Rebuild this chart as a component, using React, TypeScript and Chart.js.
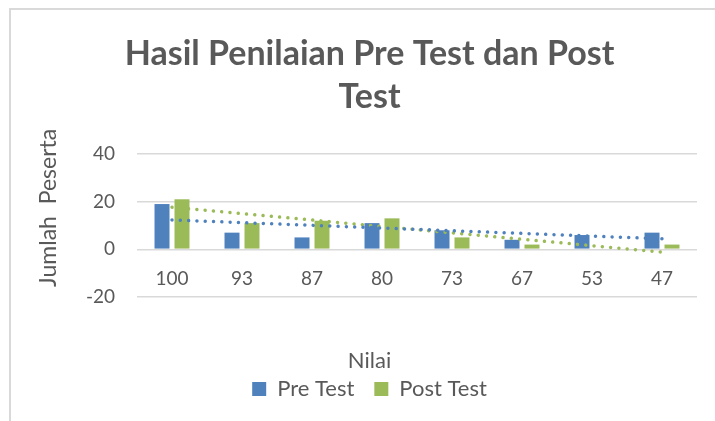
import React, { useEffect, useRef } from "react";
import { Chart, registerables } from "chart.js";

Chart.register(...registerables);

const categories = ["100", "93", "87", "80", "73", "67", "53", "47"];
const preTest = [19, 7, 5, 11, 8, 4, 6, 7];
const postTest = [21, 11, 12, 13, 5, 2, 0, 2];
const yMin = -20;
const yMax = 40;
const yStep = 20;

const chartTitle = ["Hasil Penilaian Pre Test dan Post", "Test"];
const yTitle = "Jumlah  Peserta";
const xTitle = "Nilai";

const BLUE = "#4f81bd";
const GREEN = "#9bbb59";
const TEXT = "#595959";
const FONT = "Lato";

// Linear least-squares trendline (as in Excel's "Linear" trendline)
function linearTrend(values: number[]): number[] {
  const n = values.length;
  const xs = values.map((_, i) => i + 1);
  const mx = xs.reduce((a, b) => a + b, 0) / n;
  const my = values.reduce((a, b) => a + b, 0) / n;
  let sxy = 0;
  let sxx = 0;
  for (let i = 0; i < n; i++) {
    sxy += (xs[i] - mx) * (values[i] - my);
    sxx += (xs[i] - mx) * (xs[i] - mx);
  }
  const slope = sxy / sxx;
  const intercept = my - slope * mx;
  return xs.map((x) => intercept + slope * x);
}

export default function App() {
  const ref = useRef<HTMLCanvasElement | null>(null);

  useEffect(() => {
    if (!ref.current) return;
    const chart = new Chart(ref.current, {
      type: "bar",
      data: {
        labels: categories,
        datasets: [
          {
            label: "Pre Test",
            data: preTest,
            backgroundColor: BLUE,
            borderWidth: 0,
            categoryPercentage: 0.571,
            barPercentage: 0.75,
            order: 1,
          },
          {
            label: "Post Test",
            data: postTest,
            backgroundColor: GREEN,
            borderWidth: 0,
            categoryPercentage: 0.571,
            barPercentage: 0.75,
            order: 1,
          },
          {
            type: "line",
            label: "Linear (Pre Test)",
            data: linearTrend(preTest),
            borderColor: BLUE,
            backgroundColor: BLUE,
            borderWidth: 3.5,
            borderDash: [0.01, 8.3],
            borderCapStyle: "round",
            pointRadius: 0,
            fill: false,
            tension: 0,
            order: 0,
          },
          {
            type: "line",
            label: "Linear (Post Test)",
            data: linearTrend(postTest),
            borderColor: GREEN,
            backgroundColor: GREEN,
            borderWidth: 3.5,
            borderDash: [0.01, 8.3],
            borderCapStyle: "round",
            pointRadius: 0,
            fill: false,
            tension: 0,
            order: 0,
          },
        ] as any,
      },
      options: {
        animation: false,
        responsive: false,
        devicePixelRatio: 1,
        layout: { padding: { left: 42, right: 18, top: 0, bottom: 11 } },
        scales: {
          x: {
            position: { y: 0 } as any,
            grid: { display: false, drawTicks: false },
            border: { display: false },
            ticks: {
              padding: 18,
              color: TEXT,
              font: { family: FONT, size: 19 },
            },
            afterFit: (s: any) => {
              s.height = 0;
            },
          },
          y: {
            min: yMin,
            max: yMax,
            ticks: {
              stepSize: yStep,
              padding: 22,
              color: TEXT,
              font: { family: FONT, size: 19 },
            },
            grid: { color: "#d9d9d9", lineWidth: 1.5, drawTicks: false },
            border: { display: false },
            title: {
              display: true,
              text: "      " + yTitle,
              color: TEXT,
              font: { family: FONT, size: 23 },
              padding: { top: -7, bottom: 0 },
            },
            afterFit: (s: any) => {
              s.width = 95;
            },
          },
        },
        plugins: {
          title: {
            display: true,
            text: chartTitle,
            color: TEXT,
            font: { family: FONT, size: 34, weight: "bold", lineHeight: 43 / 34 },
            padding: { top: 33, bottom: 35 },
          },
          legend: {
            position: "bottom",
            title: {
              display: true,
              text: xTitle,
              color: TEXT,
              font: { family: FONT, size: 22, lineHeight: 8 / 22 },
              padding: { top: 53, bottom: 0 },
            },
            labels: {
              boxWidth: 14,
              boxHeight: 14,
              padding: 20,
              color: TEXT,
              font: { family: FONT, size: 22 },
              filter: (item: any) => item.datasetIndex < 2,
            },
          },
          tooltip: { enabled: false },
        },
      } as any,
    });
    return () => chart.destroy();
  }, []);

  return (
    <div
      style={{
        position: "absolute",
        left: 0,
        top: 0,
        width: 715,
        height: 421,
        overflow: "hidden",
        background: "#ffffff",
      }}
    >
      <div
        style={{
          position: "absolute",
          left: 9,
          top: 8,
          width: 900,
          height: 700,
          borderLeft: "2px solid #d9d9d9",
          borderTop: "2px solid #d9d9d9",
        }}
      />
      <canvas
        ref={ref}
        width={715}
        height={421}
        style={{ position: "absolute", left: 0, top: 0, width: 715, height: 421 }}
      />
    </div>
  );
}
